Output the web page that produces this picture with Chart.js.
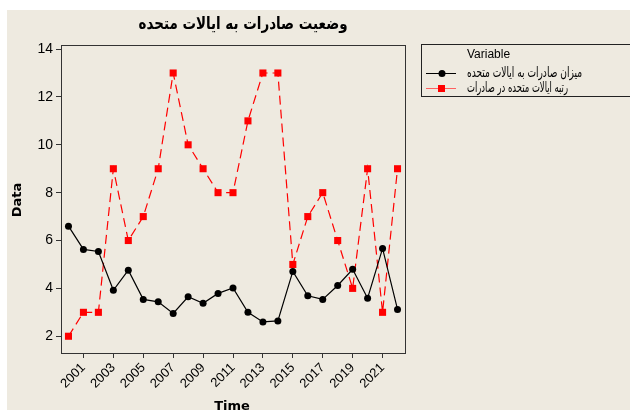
<!DOCTYPE html>
<html>
<head>
<meta charset="utf-8">
<script src="https://cdn.jsdelivr.net/npm/chart.js@4"></script>
<style>
  body { margin: 0; background: #fff; }
  #frame { position: absolute; left: 7px; top: 10px; width: 623px; height: 400px; background: #eeeae0; overflow: hidden; }
</style>
</head>
<body>
<div id="frame"><canvas id="chart" width="623" height="400"></canvas></div>
<script>
// data ------------
const years = [2000, 2001, 2002, 2003, 2004, 2005, 2006, 2007, 2008, 2009, 2010, 2011,
               2012, 2013, 2014, 2015, 2016, 2017, 2018, 2019, 2020, 2021, 2022];
const exportAmount = [6.6, 5.63, 5.54, 3.92, 4.76, 3.54, 3.44, 2.95, 3.65, 3.38, 3.79, 4.02,
                      3.0, 2.6, 2.64, 4.71, 3.69, 3.54, 4.12, 4.8, 3.59, 5.67, 3.12];
const usRank = [2, 3, 3, 9, 6, 7, 9, 13, 10, 9, 8, 8,
                11, 13, 13, 5, 7, 8, 6, 4, 9, 3, 9];
const xTickYears = [2001, 2003, 2005, 2007, 2009, 2011, 2013, 2015, 2017, 2019, 2021];
const yTicks = [2, 4, 6, 8, 10, 12, 14];

const titleText = 'وضعیت صادرات به ایالات متحده';
const seriesNames = ['میزان صادرات به ایالات متحده', 'رتبه ایالات متحده در صادرات'];

const toPoints = (vals) => vals.map((v, i) => ({ x: years[i], y: v }));

// draws text squeezed to a given width (the arabic glyphs here run wider than in the original)
function fitText(ctx, text, x, y, width, align) {
  const w = ctx.measureText(text).width;
  const k = Math.min(1, width / w);
  ctx.save();
  ctx.translate(x, y);
  ctx.scale(k, 1);
  ctx.textAlign = align;
  ctx.fillText(text, 0, 0);
  ctx.restore();
}

// extra drawing: title, axis names, frame, legend
const decorations = {
  id: 'decorations',
  afterDraw(chart) {
    const ctx = chart.ctx;
    const a = chart.chartArea;
    ctx.save();
    // frame
    ctx.strokeStyle = '#333';
    ctx.lineWidth = 1;
    ctx.strokeRect(Math.round(a.left) + 0.5, Math.round(a.top) + 0.5, Math.round(a.right - a.left), Math.round(a.bottom - a.top));

    ctx.fillStyle = '#000';
    ctx.textBaseline = 'middle';
    ctx.font = 'bold 17px "DejaVu Sans"';
    fitText(ctx, titleText, 236, 15, 209, 'center');

    ctx.textAlign = 'center';
    ctx.font = 'bold 13px "DejaVu Sans"';
    ctx.fillText('Time', 225, 397);
    ctx.save();
    ctx.translate(11, 190);
    ctx.rotate(-Math.PI / 2);
    ctx.fillText('Data', 0, 0);
    ctx.restore();

    // legend
    ctx.strokeStyle = '#222';
    ctx.strokeRect(414.5, 34.5, 220, 52);
    ctx.textAlign = 'left';
    ctx.font = '12px "Liberation Sans"';
    ctx.fillText('Variable', 460, 45);
    ctx.font = '14px "DejaVu Sans"';
    fitText(ctx, seriesNames[0], 460, 63, 115, 'left');
    fitText(ctx, seriesNames[1], 460, 78, 101, 'left');

    ctx.strokeStyle = '#000';
    ctx.beginPath();
    ctx.moveTo(419, 63.5); ctx.lineTo(449, 63.5);
    ctx.stroke();
    ctx.beginPath();
    ctx.arc(435, 63.5, 3.5, 0, Math.PI * 2);
    ctx.fill();

    ctx.strokeStyle = '#ff6060';
    ctx.fillStyle = '#ff0000';
    ctx.beginPath();
    ctx.moveTo(419, 78.5); ctx.lineTo(449, 78.5);
    ctx.stroke();
    ctx.fillRect(431, 75, 7, 7);
    ctx.restore();
  }
};

new Chart(document.getElementById('chart'), {
  type: 'line',
  data: {
    datasets: [
      {
        label: seriesNames[0],
        data: toPoints(exportAmount),
        borderColor: '#000',
        backgroundColor: '#000',
        borderWidth: 1.2,
        pointStyle: 'circle',
        pointRadius: 3.5,
        pointBorderWidth: 0,
        tension: 0
      },
      {
        label: seriesNames[1],
        data: toPoints(usRank),
        borderColor: '#ff0000',
        backgroundColor: '#ff0000',
        borderWidth: 1.2,
        borderDash: [9, 5],
        pointStyle: 'rect',
        pointRadius: 5,
        pointBorderWidth: 0,
        tension: 0
      }
    ]
  },
  options: {
    responsive: false,
    animation: false,
    layout: { padding: { top: 35, right: 225, left: 0, bottom: 0 } },
    plugins: {
      legend: { display: false },
      title: { display: false },
      tooltip: { enabled: false }
    },
    scales: {
      x: {
        type: 'linear',
        min: 1999.5,
        max: 2022.5,
        afterBuildTicks: (s) => { s.ticks = xTickYears.map(v => ({ value: v })); },
        afterFit: (s) => { s.height = 57; },
        ticks: {
          autoSkip: false,
          minRotation: 45,
          maxRotation: 45,
          color: '#000',
          padding: 2,
          font: { family: '"Liberation Sans"', size: 13 },
          callback: (v) => String(v)
        },
        grid: { drawOnChartArea: false, drawTicks: true, tickLength: 5, color: '#333' },
        border: { color: '#333' }
      },
      y: {
        min: 1.3,
        max: 14.17,
        afterBuildTicks: (s) => { s.ticks = yTicks.map(v => ({ value: v })); },
        afterFit: (s) => { s.width = 54; },
        ticks: {
          color: '#000',
          padding: 3,
          font: { family: '"Liberation Sans"', size: 14 }
        },
        grid: { drawOnChartArea: false, drawTicks: true, tickLength: 5, color: '#333' },
        border: { color: '#333' }
      }
    }
  },
  plugins: [decorations]
});
</script>
</body>
</html>
